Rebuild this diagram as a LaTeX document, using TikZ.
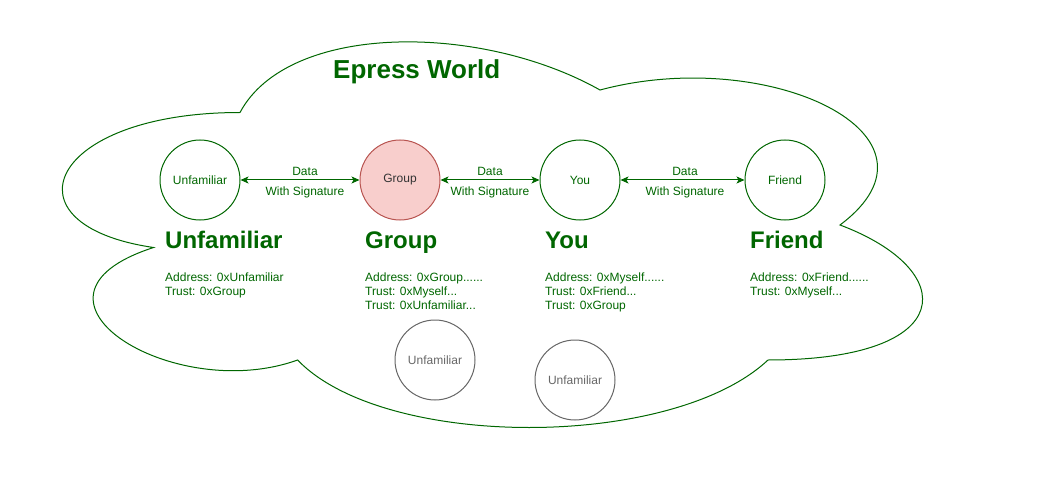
\documentclass[tikz,border=0pt]{standalone}
\usepackage{fontspec}
\setmainfont{Liberation Sans}
\usetikzlibrary{arrows.meta}
\definecolor{dgreen}{HTML}{006600}
\definecolor{pinkfill}{HTML}{F8CECC}
\definecolor{pinkline}{HTML}{B85450}
\definecolor{grayline}{HTML}{666666}
\definecolor{darktext}{HTML}{333333}
\tikzset{
  px12/.style={font=\fontsize{12}{14}\selectfont},
  gcircle/.style={circle, draw=dgreen, line width=1pt, minimum size=80pt, inner sep=0pt, text=dgreen, px12},
  grpcircle/.style={gcircle, draw=pinkline, fill=pinkfill, text=darktext},
  graycircle/.style={gcircle, draw=grayline, text=grayline},
  arr/.style={{Stealth[length=8pt,width=7pt,inset=2pt]}-{Stealth[length=8pt,width=7pt,inset=2pt]}, draw=dgreen, fill=dgreen, line width=1pt},
  elabel/.style={px12, text=dgreen, inner sep=0pt, anchor=base},
  heading/.style={font=\fontsize{24}{28}\selectfont\bfseries, text=dgreen, anchor=base west, inner sep=0pt},
  bodytext/.style={px12, text=dgreen, align=left, anchor=north west, inner sep=0pt},
  cloudline/.style={draw=dgreen, line width=1pt, line join=miter}
}
\begin{document}
\begin{tikzpicture}[x=1pt,y=-1pt]
\useasboundingbox (0,0) rectangle (1041,481);
% cloud
\draw[cloudline] (240,112.5)
  .. controls (48,112.5) and (0,225) .. (153.6,247.5)
  .. controls (0,297) and (172.8,405) .. (297.6,360)
  .. controls (384,450) and (672,450) .. (768,360)
  .. controls (960,360) and (960,270) .. (840,225)
  .. controls (960,135) and (768,45) .. (600,90)
  .. controls (480,22.5) and (288,22.5) .. (240,112.5) -- cycle;
% title
\node[font=\fontsize{26}{30}\selectfont\bfseries, text=dgreen, anchor=base west, inner sep=0pt] (title) at (333,79) {Epress World};
% circles
\node[gcircle] (u1) at (200,180) {Unfamiliar};
\node[grpcircle] (grp) at (400,180) {Group};
\node[gcircle] (you) at (580,180) {You};
\node[gcircle] (fr) at (785,180) {Friend};
\node[graycircle] (g1) at (435,360) {Unfamiliar};
\node[graycircle] (g2) at (575,380) {Unfamiliar};
% arrows
\draw[arr] (u1) -- (grp)
  node[elabel, pos=0.5, xshift=5pt, yshift=4.7pt] (l1a) {Data}
  node[elabel, pos=0.5, xshift=5pt, yshift=-15.5pt] (l1b) {With Signature};
\draw[arr] (grp) -- (you)
  node[elabel, pos=0.5, yshift=4.7pt] (l2a) {Data}
  node[elabel, pos=0.5, yshift=-15.5pt] (l2b) {With Signature};
\draw[arr] (you) -- (fr)
  node[elabel, pos=0.5, xshift=2.5pt, yshift=4.7pt] (l3a) {Data}
  node[elabel, pos=0.5, xshift=2.5pt, yshift=-15.5pt] (l3b) {With Signature};
% headings
\node[heading] (h1) at (165,248) {Unfamiliar};
\node[heading] (h2) at (365,248) {Group};
\node[heading] (h3) at (545,248) {You};
\node[heading] (h4) at (750,248) {Friend};
% body texts
\node[bodytext] (b1) at (165,272.7) {Address: 0xUnfamiliar\\Trust: 0xGroup};
\node[bodytext] (b2) at (365,272.7) {Address: 0xGroup......\\Trust: 0xMyself...\\Trust: 0xUnfamiliar...};
\node[bodytext] (b3) at (545,272.7) {Address: 0xMyself......\\Trust: 0xFriend...\\Trust: 0xGroup};
\node[bodytext] (b4) at (750,272.7) {Address: 0xFriend......\\Trust: 0xMyself...};
\end{tikzpicture}
\end{document}
